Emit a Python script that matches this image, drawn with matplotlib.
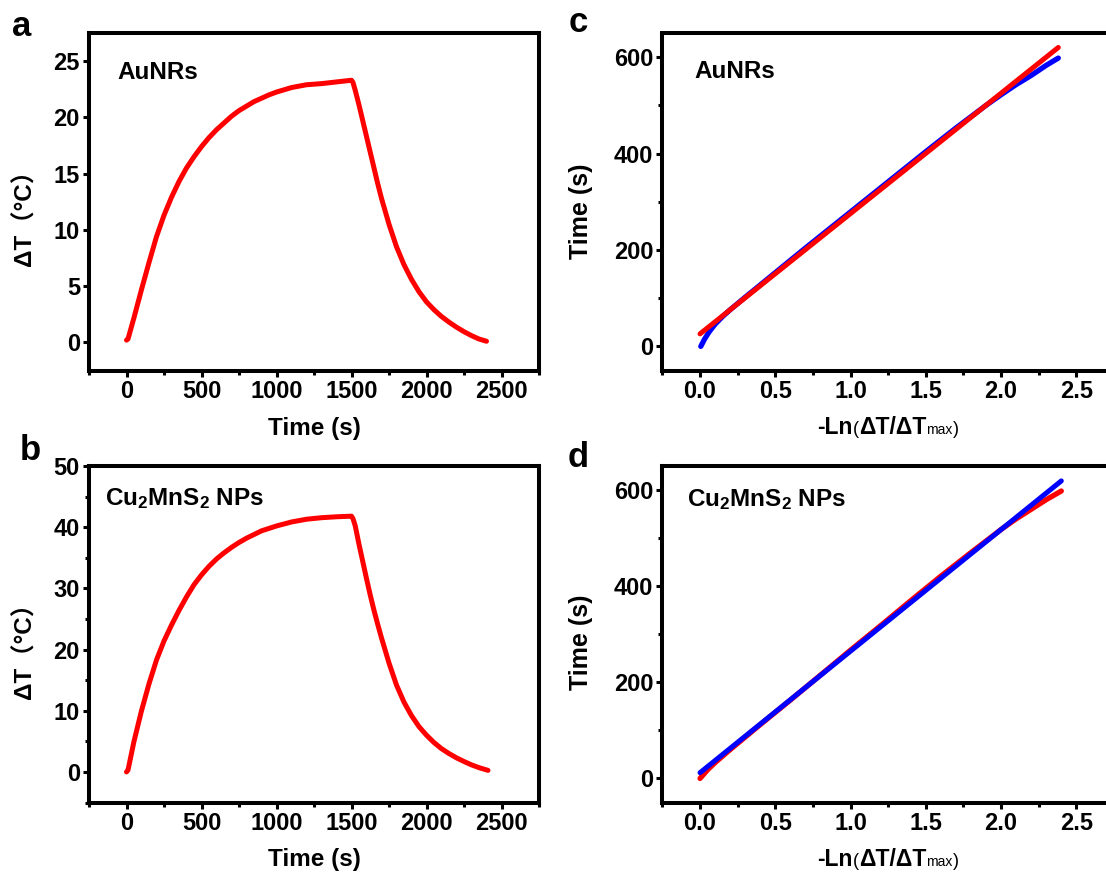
import matplotlib
matplotlib.use("Agg")
import matplotlib.pyplot as plt
from matplotlib.ticker import MultipleLocator, FormatStrFormatter

plt.rcParams['font.family'] = ['Liberation Sans', 'Noto Sans CJK SC', 'DejaVu Sans']
plt.rcParams['font.weight'] = 'bold'
plt.rcParams['mathtext.fontset'] = 'custom'
plt.rcParams['mathtext.rm'] = 'Liberation Sans'
plt.rcParams['mathtext.bf'] = 'Liberation Sans:bold'
plt.rcParams['mathtext.it'] = 'Liberation Sans:italic'

# ---------------- data ----------------
# panel a: AuNRs heating / cooling
au_time = [0, 10, 50, 100, 150, 200, 250, 300, 350, 400, 450, 500, 550, 600,
           650, 700, 750, 800, 850, 900, 950, 1000, 1100, 1200, 1300, 1400,
           1500, 1510, 1525, 1550, 1575, 1600, 1625, 1650, 1675, 1700, 1750,
           1800, 1850, 1900, 1950, 2000, 2050, 2100, 2150, 2200, 2250, 2300,
           2350, 2400]
au_dT = [0.2, 0.3, 2.2, 4.7, 7.1, 9.4, 11.3, 12.9, 14.3, 15.5, 16.5, 17.4,
         18.2, 18.9, 19.5, 20.1, 20.6, 21.0, 21.4, 21.7, 22.0, 22.25, 22.65,
         22.9, 23.0, 23.15, 23.3, 23.1, 22.4, 21.1, 19.7, 18.3, 16.9, 15.5,
         14.1, 12.8, 10.5, 8.5, 6.9, 5.6, 4.5, 3.6, 2.9, 2.3, 1.8, 1.35, 0.95,
         0.6, 0.3, 0.1]

# panel b: Cu2MnS2 NPs heating / cooling
cu_time = [0, 10, 50, 100, 150, 200, 250, 300, 350, 400, 450, 500, 550, 600,
           650, 700, 750, 800, 850, 900, 950, 1000, 1100, 1200, 1300, 1400,
           1500, 1510, 1525, 1550, 1575, 1600, 1625, 1650, 1675, 1700, 1750,
           1800, 1850, 1900, 1950, 2000, 2050, 2100, 2150, 2200, 2250, 2300,
           2350, 2410]
cu_dT = [0.0, 0.3, 5.0, 10.0, 14.4, 18.3, 21.4, 24.0, 26.4, 28.6, 30.6, 32.2,
         33.6, 34.8, 35.8, 36.7, 37.5, 38.2, 38.8, 39.4, 39.8, 40.2, 40.85,
         41.3, 41.55, 41.7, 41.8, 41.4, 40.2, 37.2, 34.4, 31.6, 28.9, 26.4,
         24.1, 21.9, 17.8, 14.2, 11.4, 9.2, 7.4, 6.0, 4.8, 3.8, 3.0, 2.3, 1.7,
         1.15, 0.7, 0.25]

# panel c: AuNRs, -ln(dT/dTmax) vs time (blue data, red linear fit)
c_x_exp = [0.005, 0.03, 0.06, 0.10, 0.15, 0.20, 0.30, 0.50, 0.70, 0.90, 1.10,
           1.30, 1.50, 1.70, 1.90, 2.00, 2.10, 2.20, 2.30, 2.38]
c_t_exp = [0, 15, 30, 46, 62, 76, 102, 153, 204, 254, 304, 354, 404, 453,
           500, 522, 543, 562, 583, 598]
c_x_fit = [0.0, 2.38]
c_t_fit = [26, 620]

# panel d: Cu2MnS2 NPs (red data, blue linear fit)
d_x_exp = [0.0, 0.05, 0.10, 0.20, 0.40, 0.60, 0.80, 1.00, 1.20, 1.40, 1.60,
           1.80, 2.00, 2.10, 2.20, 2.30, 2.40]
d_t_exp = [0, 18, 33, 60, 112, 163, 215, 267, 318, 370, 421, 470, 518, 540,
           560, 580, 598]
d_x_fit = [0.0, 2.40]
d_t_fit = [12, 619]

W, H = 1106, 874
RED = '#ff0000'
BLUE = '#0000ff'
TICK_FS = 17
LABEL_FS = 17.5

fig = plt.figure(figsize=(W / 100, H / 100), dpi=100)


def px_axes(left, top, right, bottom):
    return fig.add_axes([left / W, 1 - bottom / H, (right - left) / W, (bottom - top) / H])


ax_a = px_axes(89, 33, 539, 370.5)
ax_b = px_axes(89, 466, 539, 802.5)
ax_c = px_axes(662.4, 33, 1114, 370.5)
ax_d = px_axes(662.4, 466, 1114, 802.5)


def style(ax):
    for sp in ax.spines.values():
        sp.set_linewidth(2.9)
    ax.tick_params(which='both', direction='out', width=2.2, labelsize=TICK_FS,
                   pad=2.5)
    ax.tick_params(which='major', length=4.0)
    ax.tick_params(which='minor', length=2.6)
    ax.tick_params(top=False, right=False)
    for lab in ax.get_xticklabels() + ax.get_yticklabels():
        lab.set_fontweight('bold')


# ---- panel a ----
ax_a.plot(au_time, au_dT, color=RED, lw=3.6, solid_capstyle='round',
          solid_joinstyle='round')
ax_a.set_xlim(-250, 2750)
ax_a.set_ylim(-2.5, 27.5)
ax_a.xaxis.set_minor_locator(MultipleLocator(250))
ax_a.set_xticks([0, 500, 1000, 1500, 2000, 2500])
ax_a.set_yticks([0, 5, 10, 15, 20, 25])

# ---- panel b ----
ax_b.plot(cu_time, cu_dT, color=RED, lw=3.6, solid_capstyle='round',
          solid_joinstyle='round')
ax_b.set_xlim(-250, 2750)
ax_b.set_ylim(-5, 50)
ax_b.xaxis.set_minor_locator(MultipleLocator(250))
ax_b.yaxis.set_minor_locator(MultipleLocator(5))
ax_b.set_xticks([0, 500, 1000, 1500, 2000, 2500])
ax_b.set_yticks([0, 10, 20, 30, 40, 50])

# ---- panel c ----
ax_c.plot(c_x_exp, c_t_exp, color=BLUE, lw=3.8, solid_capstyle='round',
          solid_joinstyle='round')
ax_c.plot(c_x_fit, c_t_fit, color=RED, lw=3.6, solid_capstyle='round')
ax_c.set_xlim(-0.25, 2.75)
ax_c.set_ylim(-50, 650)
ax_c.xaxis.set_minor_locator(MultipleLocator(0.25))
ax_c.yaxis.set_minor_locator(MultipleLocator(100))
ax_c.set_xticks([0.0, 0.5, 1.0, 1.5, 2.0, 2.5])
ax_c.set_yticks([0, 200, 400, 600])
ax_c.xaxis.set_major_formatter(FormatStrFormatter('%.1f'))

# ---- panel d ----
ax_d.plot(d_x_exp, d_t_exp, color=RED, lw=3.8, solid_capstyle='round',
          solid_joinstyle='round')
ax_d.plot(d_x_fit, d_t_fit, color=BLUE, lw=3.6, solid_capstyle='round')
ax_d.set_xlim(-0.25, 2.75)
ax_d.set_ylim(-50, 650)
ax_d.xaxis.set_minor_locator(MultipleLocator(0.25))
ax_d.yaxis.set_minor_locator(MultipleLocator(100))
ax_d.set_xticks([0.0, 0.5, 1.0, 1.5, 2.0, 2.5])
ax_d.set_yticks([0, 200, 400, 600])
ax_d.xaxis.set_major_formatter(FormatStrFormatter('%.1f'))

for ax in (ax_a, ax_b, ax_c, ax_d):
    style(ax)

# ---- axis labels ----
for ax, lab_y in ((ax_a, 0.47), (ax_b, 0.468)):
    ax.set_xlabel('Time (s)', fontsize=LABEL_FS, fontweight='bold')
    ax.set_ylabel('ΔT（°C）', fontsize=LABEL_FS, fontweight='bold')
    ax.yaxis.set_label_coords(-0.116, lab_y)

ax_a.xaxis.set_label_coords(0.5, 1 - (435 - 33) / 337.5)
ax_b.xaxis.set_label_coords(0.5, 1 - (866 - 466) / 336.5)
for ax in (ax_a, ax_b):
    ax.xaxis.label.set_va('baseline')

for ax, lab_y in ((ax_c, 0.473), (ax_d, 0.475)):
    ax.set_ylabel('Time (s)', fontsize=18, fontweight='bold')
    ax.yaxis.set_label_coords(-0.153, lab_y)

# composite x label for c and d: -Ln(ΔT/ΔTmax)
renderer = fig.canvas.get_renderer()
pieces = [('-Ln', 16.5, 'bold'), ('(', 13, 'normal'), ('ΔT/ΔT', 16.5, 'bold'),
          ('max', 10, 'normal'), (')', 13, 'normal')]


def composite_label(ax, baseline_px):
    bb = ax.get_position()
    center_px = (bb.x0 + (1.25 - (-0.25)) / 3.0 * bb.width) * W
    texts, widths = [], []
    for s, fs, fw in pieces:
        t = fig.text(0, 1 - baseline_px / H, s, fontsize=fs, fontweight=fw,
                     va='baseline', ha='left')
        widths.append(t.get_window_extent(renderer=renderer).width)
        texts.append(t)
    x = center_px - sum(widths) / 2
    for t, w in zip(texts, widths):
        t.set_x(x / W)
        x += w


composite_label(ax_c, 434)
composite_label(ax_d, 866)

# ---- inset sample labels ----
ax_a.text(0.062, 0.864, 'AuNRs', transform=ax_a.transAxes, fontsize=17.5,
          fontweight='bold', va='baseline')
ax_c.text(0.071, 0.867, 'AuNRs', transform=ax_c.transAxes, fontsize=17.5,
          fontweight='bold', va='baseline')
ax_b.text(0.036, 0.884, r'Cu$_\mathrm{2}$MnS$_\mathrm{2}$ NPs', transform=ax_b.transAxes,
          fontsize=17.5, fontweight='bold', va='baseline')
ax_d.text(0.054, 0.881, r'Cu$_\mathrm{2}$MnS$_\mathrm{2}$ NPs', transform=ax_d.transAxes,
          fontsize=17.5, fontweight='bold', va='baseline')

# ---- panel letters ----
for s, xp, yp in (('a', 12, 36), ('b', 20, 460), ('c', 569, 32), ('d', 568, 467)):
    fig.text(xp / W, 1 - yp / H, s, fontsize=25, fontweight='bold', va='baseline')

fig.savefig('out.png', dpi=100)
